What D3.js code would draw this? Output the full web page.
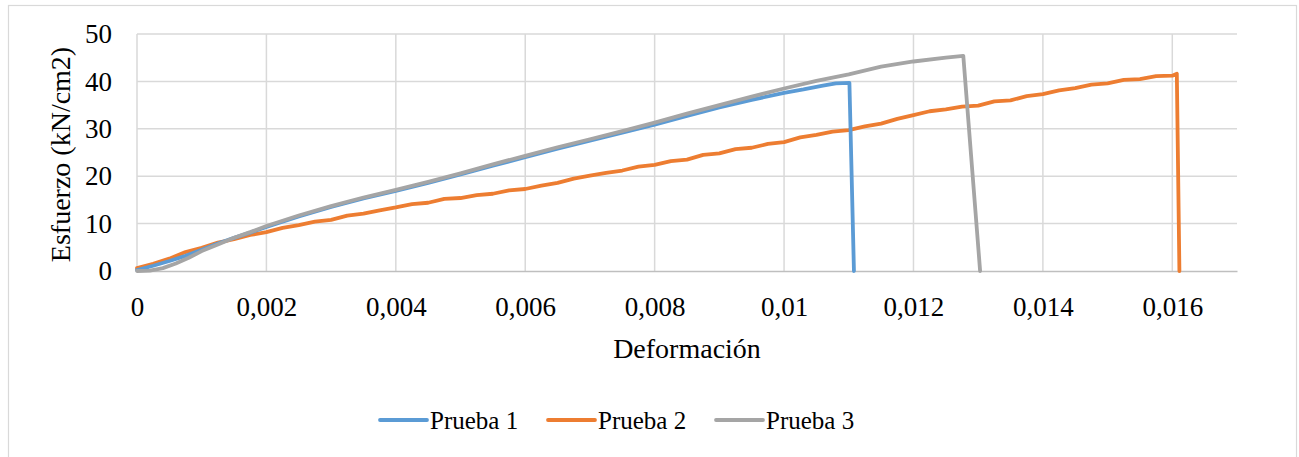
<!DOCTYPE html>
<html>
<head>
<meta charset="utf-8">
<script src="https://cdn.jsdelivr.net/npm/d3@7"></script>
<style>
  html, body { margin: 0; padding: 0; background: #fff; }
</style>
</head>
<body>
<svg id="chart" width="1299" height="457"></svg>
<script>
// Deformación (strain) vs Esfuerzo (kN/cm2) for three test specimens
const prueba1X = [0, 0.00025, 0.0005, 0.00075, 0.001, 0.00125, 0.0015, 0.00175, 0.002, 0.0025, 0.003, 0.0035, 0.004, 0.0045, 0.005, 0.0055, 0.006, 0.0065, 0.007, 0.0075, 0.008, 0.0085, 0.009, 0.0095, 0.01, 0.0103, 0.0106, 0.0108, 0.01101, 0.01108];
const prueba1Y = [0.2, 1.1, 2.1, 3.2, 4.5, 5.8, 7.0, 8.1, 9.3, 11.5, 13.5, 15.3, 16.9, 18.6, 20.4, 22.2, 24.0, 25.8, 27.5, 29.2, 30.9, 32.7, 34.5, 36.1, 37.6, 38.3, 39.1, 39.6, 39.7, 0];

const prueba2X = [0, 0.00025, 0.0005, 0.00075, 0.001, 0.00125, 0.0015, 0.00175, 0.002, 0.00225, 0.0025, 0.00275, 0.003, 0.00325, 0.0035, 0.00375, 0.004, 0.00425, 0.0045, 0.00475, 0.005, 0.00525, 0.0055, 0.00575, 0.006, 0.00625, 0.0065, 0.00675, 0.007, 0.00725, 0.0075, 0.00775, 0.008, 0.00825, 0.0085, 0.00875, 0.009, 0.00925, 0.0095, 0.00975, 0.01, 0.01025, 0.0105, 0.01075, 0.011, 0.01125, 0.0115, 0.01175, 0.012, 0.01225, 0.0125, 0.01275, 0.013, 0.01325, 0.0135, 0.01375, 0.014, 0.01425, 0.0145, 0.01475, 0.015, 0.01525, 0.0155, 0.01575, 0.016, 0.01607, 0.01611];
const prueba2Y = [0.6, 1.5, 2.6, 4.0, 4.9, 6.0, 6.7, 7.6, 8.2, 9.1, 9.7, 10.4, 10.8, 11.7, 12.1, 12.8, 13.4, 14.1, 14.4, 15.2, 15.4, 16.0, 16.3, 17.0, 17.3, 18.0, 18.6, 19.5, 20.1, 20.7, 21.2, 22.0, 22.4, 23.2, 23.5, 24.5, 24.8, 25.7, 26.0, 26.8, 27.2, 28.2, 28.7, 29.4, 29.7, 30.5, 31.1, 32.1, 32.9, 33.7, 34.1, 34.7, 34.9, 35.8, 36.0, 36.9, 37.3, 38.1, 38.6, 39.3, 39.6, 40.3, 40.5, 41.1, 41.2, 41.6, 0];

const prueba3X = [0, 0.0002, 0.0004, 0.0006, 0.0008, 0.001, 0.00125, 0.0015, 0.00175, 0.002, 0.0025, 0.003, 0.0035, 0.004, 0.0045, 0.005, 0.0055, 0.006, 0.0065, 0.007, 0.0075, 0.008, 0.0085, 0.009, 0.0095, 0.01, 0.0105, 0.011, 0.0115, 0.012, 0.0125, 0.01277, 0.01303];
const prueba3Y = [0, 0.1, 0.6, 1.6, 2.8, 4.2, 5.6, 7.0, 8.2, 9.5, 11.7, 13.7, 15.5, 17.1, 18.8, 20.6, 22.5, 24.3, 26.1, 27.8, 29.5, 31.3, 33.2, 35.0, 36.8, 38.5, 40.1, 41.5, 43.1, 44.2, 45.0, 45.4, 0];

const seriesNames = ["Prueba 1", "Prueba 2", "Prueba 3"];
const seriesColors = ["#5B9BD5", "#ED7D31", "#A5A5A5"];
const xTicks = [0, 0.002, 0.004, 0.006, 0.008, 0.01, 0.012, 0.014, 0.016];
const yTicks = [0, 10, 20, 30, 40, 50];
const xTitle = "Deformación";
const yTitle = "Esfuerzo (kN/cm2)";

const FONT = "'Liberation Serif', 'Times New Roman', serif";
const svg = d3.select("#chart");
const plot = { left: 137, right: 1237, top: 34, bottom: 271 };

// chart frame
svg.append("rect")
  .attr("x", 8.5).attr("y", 5.5)
  .attr("width", 1288).attr("height", 470)
  .attr("fill", "#fff").attr("stroke", "#D9D9D9").attr("stroke-width", 1.2);

const x = d3.scaleLinear().domain([0, 0.017]).range([plot.left, plot.right]);
const y = d3.scaleLinear().domain([0, 50]).range([plot.bottom, plot.top]);

const fmt = v => v === 0 ? "0" : String(+v.toFixed(3)).replace(".", ",");

// gridlines
const grid = svg.append("g");
grid.selectAll("line.h").data(yTicks.filter(d => d > 0)).enter().append("line")
  .attr("x1", plot.left).attr("x2", plot.right)
  .attr("y1", d => y(d)).attr("y2", d => y(d))
  .attr("stroke", "#D9D9D9").attr("stroke-width", 1.5);
grid.selectAll("line.v").data(xTicks).enter().append("line")
  .attr("x1", d => x(d)).attr("x2", d => x(d))
  .attr("y1", plot.top).attr("y2", plot.bottom)
  .attr("stroke", "#D9D9D9").attr("stroke-width", 1.5);

// x axis
const xAxis = svg.append("g")
  .attr("transform", `translate(0,${plot.bottom})`)
  .call(d3.axisBottom(x).tickValues(xTicks).tickFormat(fmt).tickSize(0).tickPadding(26));
xAxis.attr("font-family", FONT).attr("font-size", 27);
xAxis.select(".domain").attr("stroke", "#BFBFBF").attr("stroke-width", 1.5);
xAxis.selectAll("text").attr("fill", "#000");

// y axis
const yAxis = svg.append("g")
  .attr("transform", `translate(${plot.left},0)`)
  .call(d3.axisLeft(y).tickValues(yTicks).tickFormat(d3.format("d")).tickSize(0).tickPadding(25));
yAxis.attr("font-family", FONT).attr("font-size", 27);
yAxis.select(".domain").remove();
yAxis.selectAll("text").attr("fill", "#000");

// axis titles
svg.append("text")
  .attr("x", (plot.left + plot.right) / 2).attr("y", 358)
  .attr("text-anchor", "middle")
  .attr("font-family", FONT).attr("font-size", 28)
  .text(xTitle);
svg.append("text")
  .attr("transform", `translate(70,${(plot.top + plot.bottom) / 2 + 2}) rotate(-90)`)
  .attr("text-anchor", "middle")
  .attr("font-family", FONT).attr("font-size", 28)
  .text(yTitle);

// series lines
const seriesData = [
  prueba1X.map((v, i) => [v, prueba1Y[i]]),
  prueba2X.map((v, i) => [v, prueba2Y[i]]),
  prueba3X.map((v, i) => [v, prueba3Y[i]])
];
const line = d3.line().x(d => x(d[0])).y(d => y(d[1]));
// draw order: orange, blue, gray on top
[1, 0, 2].forEach(i => {
  svg.append("path")
    .datum(seriesData[i])
    .attr("d", line)
    .attr("fill", "none")
    .attr("stroke", seriesColors[i])
    .attr("stroke-width", 3.8)
    .attr("stroke-linejoin", "round")
    .attr("stroke-linecap", "round");
});

// legend
const legendItems = [
  { x0: 380, tx: 430 },
  { x0: 548, tx: 598 },
  { x0: 716, tx: 766 }
];
const legend = svg.append("g");
seriesNames.forEach((name, i) => {
  legend.append("line")
    .attr("x1", legendItems[i].x0).attr("x2", legendItems[i].x0 + 47)
    .attr("y1", 420).attr("y2", 420)
    .attr("stroke", seriesColors[i]).attr("stroke-width", 3.8)
    .attr("stroke-linecap", "round");
  legend.append("text")
    .attr("x", legendItems[i].tx).attr("y", 429)
    .attr("font-family", FONT).attr("font-size", 25)
    .attr("fill", "#000")
    .text(name);
});
</script>
</body>
</html>
